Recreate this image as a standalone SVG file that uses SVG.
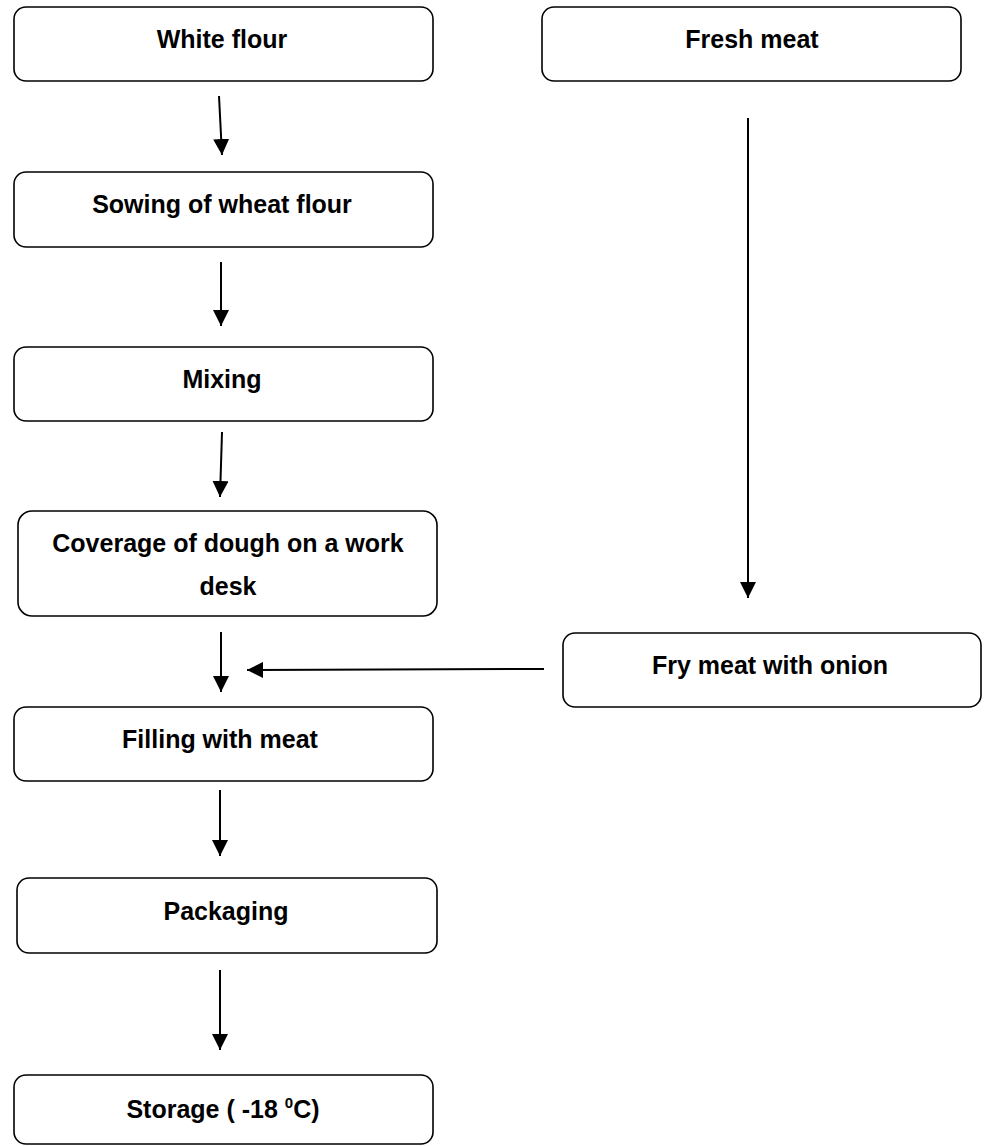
<svg xmlns="http://www.w3.org/2000/svg" width="989" height="1146" viewBox="0 0 989 1146">
<style>
.box{fill:#fff;stroke:#000;stroke-width:1.6}
.t{font-family:"Liberation Sans",Arial,sans-serif;font-weight:bold;font-size:25px;fill:#000;text-anchor:middle}
.c{stroke:#000;stroke-width:2;fill:none;marker-end:url(#ah)}
</style>
<defs>
<marker id="ah" markerUnits="userSpaceOnUse" markerWidth="16" markerHeight="16" refX="16" refY="8" orient="auto" viewBox="0 0 16 16">
<path d="M0,0 L16,8 L0,16 Z" fill="#000"/>
</marker>
</defs>
<rect width="989" height="1146" fill="#fff"/>
<g id="connectors">
<line class="c" x1="219" y1="96" x2="222" y2="155"/>
<line class="c" x1="221" y1="262" x2="221" y2="326"/>
<line class="c" x1="222" y1="432" x2="220" y2="497"/>
<line class="c" x1="221" y1="632" x2="221" y2="692"/>
<line class="c" x1="544" y1="669" x2="247" y2="670"/>
<line class="c" x1="748" y1="118" x2="748" y2="598"/>
<line class="c" x1="220" y1="790" x2="220" y2="856"/>
<line class="c" x1="220" y1="970" x2="220" y2="1050"/>
</g>
<g id="white-flour"><rect class="box" x="14" y="7" width="419" height="74" rx="12"/><text class="t" x="222" y="48">White flour</text></g>
<g id="fresh-meat"><rect class="box" x="542" y="7" width="419" height="74" rx="12"/><text class="t" x="752" y="48">Fresh meat</text></g>
<g id="sowing"><rect class="box" x="14" y="172" width="419" height="75" rx="12"/><text class="t" x="222" y="213">Sowing of wheat flour</text></g>
<g id="mixing"><rect class="box" x="14" y="347" width="419" height="74" rx="12"/><text class="t" x="222" y="388">Mixing</text></g>
<g id="coverage"><rect class="box" x="18" y="511" width="419" height="105" rx="14"/><text class="t" x="228" y="552">Coverage of dough on a work</text><text class="t" x="228" y="595">desk</text></g>
<g id="fry-meat"><rect class="box" x="563" y="633" width="418" height="74" rx="12"/><text class="t" x="770" y="674">Fry meat with onion</text></g>
<g id="filling"><rect class="box" x="14" y="707" width="419" height="74" rx="12"/><text class="t" x="220" y="748">Filling with meat</text></g>
<g id="packaging"><rect class="box" x="17" y="878" width="420" height="75" rx="12"/><text class="t" x="226" y="920">Packaging</text></g>
<g id="storage"><rect class="box" x="14" y="1075" width="419" height="69" rx="12"/><text class="t" x="223" y="1118">Storage ( -18 <tspan font-size="15" dy="-10">0</tspan><tspan dy="10">C)</tspan></text></g>
</svg>
